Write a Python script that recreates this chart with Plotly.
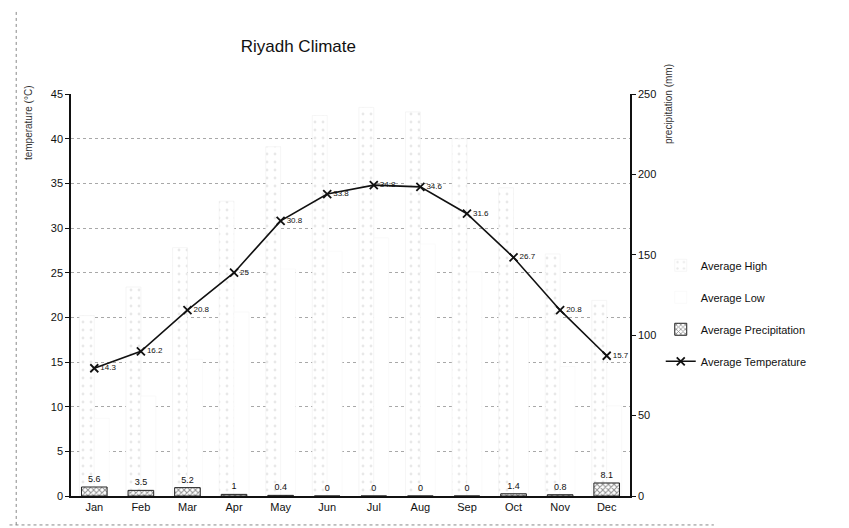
import plotly.graph_objects as go

months = ["Jan", "Feb", "Mar", "Apr", "May", "Jun", "Jul", "Aug", "Sep", "Oct", "Nov", "Dec"]
avg_high = [20.2, 23.4, 27.8, 33.0, 39.1, 42.6, 43.5, 43.0, 40.0, 34.5, 27.1, 21.9]
avg_low = [8.7, 11.2, 15.3, 20.6, 25.4, 27.4, 28.9, 28.2, 25.1, 19.9, 14.5, 10.1]
avg_precip = [5.6, 3.5, 5.2, 1.0, 0.4, 0, 0, 0, 0, 1.4, 0.8, 8.1]
avg_temp = [14.3, 16.2, 20.8, 25, 30.8, 33.8, 34.8, 34.6, 31.6, 26.7, 20.8, 15.7]

FONT = "Liberation Sans, Arial, sans-serif"

fig = go.Figure()

fig.add_trace(go.Bar(
    x=months, y=avg_high, name="Average High", legendgroup="a",
    offset=-0.32, width=0.32,
    marker=dict(color="white", line=dict(color="#ececec", width=0.5),
                pattern=dict(shape=".", fgcolor="#d2d2d2", bgcolor="white", size=8, solidity=0.1)),
))
fig.add_trace(go.Bar(
    x=months, y=avg_low, name="Average Low", legendgroup="b",
    offset=0.0, width=0.32,
    marker=dict(color="white", line=dict(color="#f5f5f5", width=0.5)),
))
fig.add_trace(go.Bar(
    x=months, y=avg_precip, name="Average Precipitation", legendgroup="c",
    yaxis="y2", width=0.55,
    marker=dict(color="white", line=dict(color="#222", width=1),
                pattern=dict(shape="x", fgcolor="#222", bgcolor="white", size=4, solidity=0.45)),
    text=[f"{v:g}" for v in avg_precip], textposition="outside", cliponaxis=False,
    textfont=dict(family=FONT, size=9, color="#111"),
))
fig.add_trace(go.Scatter(
    x=months, y=avg_temp, name="Average Temperature", legendgroup="d",
    mode="lines+markers+text",
    line=dict(color="#111", width=1.6),
    marker=dict(symbol="x-thin", size=8, line=dict(color="#111", width=1.8)),
    text=[f"{v:g}" for v in avg_temp], textposition="middle right",
    textfont=dict(family=FONT, size=8, color="#111"),
))

fig.update_layout(
    width=849, height=528,
    paper_bgcolor="white", plot_bgcolor="white",
    margin=dict(l=63, r=227, t=86, b=40),
    font=dict(family=FONT, color="#111"),
    title=dict(text="Riyadh Climate", x=0.342, xanchor="center", y=0.927, yanchor="middle",
               font=dict(family=FONT, size=17, color="#111")),
    barmode="overlay",
    showlegend=True,
    legend=dict(x=1.055, xanchor="left", y=0.61, yanchor="top",
                font=dict(family=FONT, size=11, color="#111"),
                tracegroupgap=13, traceorder="grouped", bgcolor="rgba(0,0,0,0)"),
    xaxis=dict(showline=True, linecolor="#111", linewidth=1.5, ticks="",
               tickfont=dict(family=FONT, size=11, color="#111"), showgrid=False,
               range=[-0.5, 11.5]),
    yaxis=dict(range=[0, 45], dtick=5, showline=True, linecolor="#111", linewidth=1.5,
               ticks="outside", ticklen=4, tickcolor="#111",
               showgrid=True, gridcolor="#a8a8a8", griddash="dot", gridwidth=1,
               tickfont=dict(family=FONT, size=11, color="#111"), zeroline=False),
    yaxis2=dict(range=[0, 250], dtick=50, overlaying="y", side="right", showline=True,
                linecolor="#111", linewidth=1.5, ticks="outside", ticklen=4, tickcolor="#111",
                showgrid=False, zeroline=False,
                tickfont=dict(family=FONT, size=11, color="#111")),
    annotations=[
        dict(text="temperature (°C)", textangle=-90, xref="paper", yref="paper",
             x=-0.077, y=0.93, xanchor="center", yanchor="middle", showarrow=False,
             font=dict(family=FONT, size=10, color="#333")),
        dict(text="precipitation (mm)", textangle=-90, xref="paper", yref="paper",
             x=1.068, y=0.975, xanchor="center", yanchor="middle", showarrow=False,
             font=dict(family=FONT, size=10, color="#333")),
    ],
    shapes=[
        dict(type="line", xref="paper", yref="paper", x0=-0.098, x1=-0.098, y0=-0.072, y1=1.21,
             line=dict(color="#888", width=1, dash="dot")),
        dict(type="line", xref="paper", yref="paper", x0=-0.11, x1=1.15, y0=-0.072, y1=-0.072,
             line=dict(color="#888", width=1, dash="dot")),
    ],
)

fig.write_html("out.html")
